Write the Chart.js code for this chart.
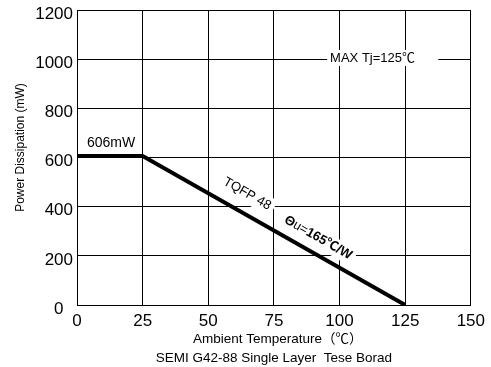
<!DOCTYPE html>
<html>
<head>
<meta charset="utf-8">
<script src="https://cdn.jsdelivr.net/npm/chart.js@4.4.1/dist/chart.umd.min.js"></script>
<style>
  html, body { margin: 0; padding: 0; background: #fff; }
  #wrap { width: 491px; height: 367px; }
</style>
</head>
<body>
<div id="wrap"><canvas id="pdChart" width="491" height="367"></canvas></div>
<script>
// derating curve: power dissipation vs ambient temperature
const temps = [0, 25, 125];
const powerMw = [606, 606, 0];
const xTicks = [0, 25, 50, 75, 100, 125, 150];
const yTicks = [0, 200, 400, 600, 800, 1000, 1200];

const FONT = '"Liberation Sans", Arial, "Noto Sans CJK SC", sans-serif';

// annotations (text + where it sits, in data units)
const flatLabel = { text: '606mW', x: 13, y: 659 };
const maxLabel = { text: 'MAX Tj=125\u2103', x: 96.4, y: 1005, boxFrom: 95.3, boxTo: 137.6 };
const slopeLabels = [
  { parts: [['TQFP 48', 'normal']], x: 61.3, off: 18.7 },
  { parts: [['\u0398', 'bold'], ['u=', 'normal'], ['165\u2103/W', 'bold']], x: 88.9, off: 15.5 }
];

const labelPlugin = {
  id: 'labels',
  beforeDatasetsDraw(chart) {
    const ctx = chart.ctx;
    const xs = chart.scales.x, ys = chart.scales.y;
    ctx.save();
    ctx.fillStyle = '#000';
    ctx.textBaseline = 'middle';

    // 606mW
    ctx.font = '14px ' + FONT;
    ctx.textAlign = 'center';
    ctx.fillText(flatLabel.text, xs.getPixelForValue(flatLabel.x), ys.getPixelForValue(flatLabel.y));

    // MAX Tj label with white box over the grid
    const mx0 = xs.getPixelForValue(maxLabel.boxFrom), mx1 = xs.getPixelForValue(maxLabel.boxTo);
    const my = ys.getPixelForValue(maxLabel.y);
    ctx.fillStyle = '#fff';
    ctx.fillRect(mx0, my - 8, mx1 - mx0, 16);
    ctx.fillStyle = '#000';
    ctx.textAlign = 'left';
    ctx.font = '13px ' + FONT;
    ctx.fillText(maxLabel.text, xs.getPixelForValue(maxLabel.x), my);

    // labels along the sloped part of the curve
    const x1 = xs.getPixelForValue(temps[1]), y1 = ys.getPixelForValue(powerMw[1]);
    const x2 = xs.getPixelForValue(temps[2]), y2 = ys.getPixelForValue(powerMw[2]);
    const ang = Math.atan2(y2 - y1, x2 - x1);
    slopeLabels.forEach(function(lab) {
      const px = xs.getPixelForValue(lab.x);
      const py = y1 + (px - x1) * (y2 - y1) / (x2 - x1);
      const cx = px + Math.sin(ang) * lab.off;
      const cy = py - Math.cos(ang) * lab.off;
      ctx.save();
      ctx.translate(cx, cy);
      ctx.rotate(ang);
      let total = 0;
      const widths = lab.parts.map(function(p) {
        ctx.font = (p[1] === 'bold' ? 'bold ' : '') + '13px ' + FONT;
        const w = ctx.measureText(p[0]).width;
        total += w;
        return w;
      });
      ctx.fillStyle = '#fff';
      ctx.fillRect(-total / 2 - 4, -9, total + 8, 18);
      ctx.fillStyle = '#000';
      ctx.textAlign = 'left';
      let cur = -total / 2;
      lab.parts.forEach(function(p, i) {
        ctx.font = (p[1] === 'bold' ? 'bold ' : '') + '13px ' + FONT;
        ctx.fillText(p[0], cur, 0);
        cur += widths[i];
      });
      ctx.restore();
    });
    ctx.restore();
  }
};

const ctx = document.getElementById('pdChart');
new Chart(ctx, {
  type: 'line',
  data: {
    datasets: [{
      data: temps.map(function(t, i) { return { x: t, y: powerMw[i] }; }),
      borderColor: '#000',
      borderWidth: 4,
      pointRadius: 0,
      tension: 0,
      fill: false
    }]
  },
  options: {
    responsive: false,
    animation: false,
    layout: { padding: { top: 10, right: 20, left: 0, bottom: 0 } },
    plugins: { legend: { display: false }, tooltip: { enabled: false } },
    scales: {
      x: {
        type: 'linear',
        min: 0, max: 150,
        afterBuildTicks: function(s) { s.ticks = xTicks.map(function(v) { return { value: v }; }); },
        afterFit: function(s) { s.height = 62; },
        grid: { color: '#000', lineWidth: 1, drawTicks: false },
        border: { color: '#000', width: 1 },
        ticks: {
          color: '#000', padding: 6, maxRotation: 0,
          font: { family: FONT, size: 17 },
          callback: function(v) { return String(v); }
        },
        title: {
          display: true,
          text: ['  Ambient Temperature\uFF08\u2103\uFF09', 'SEMI G42-88 Single Layer  Tese Borad'],
          color: '#000',
          font: { family: FONT, size: 13.5, lineHeight: 1.35 },
          padding: { top: 0, bottom: 0 }
        }
      },
      y: {
        min: 0, max: 1200,
        afterBuildTicks: function(s) { s.ticks = yTicks.map(function(v) { return { value: v }; }); },
        afterFit: function(s) { s.width = 77; s.paddingTop = 0; s.paddingBottom = 0; },
        grid: { color: '#000', lineWidth: 1, drawTicks: false },
        border: { color: '#000', width: 1 },
        ticks: {
          color: '#000', padding: 4, labelOffset: 4,
          font: { family: FONT, size: 17 },
          callback: function(v) { return v === 0 ? '0  ' : String(v); }
        },
        title: {
          display: true,
          text: '      Power Dissipation (mW)',
          color: '#000',
          font: { family: FONT, size: 12 },
          padding: { top: 13, bottom: 0 }
        }
      }
    }
  },
  plugins: [labelPlugin]
});
</script>
</body>
</html>
